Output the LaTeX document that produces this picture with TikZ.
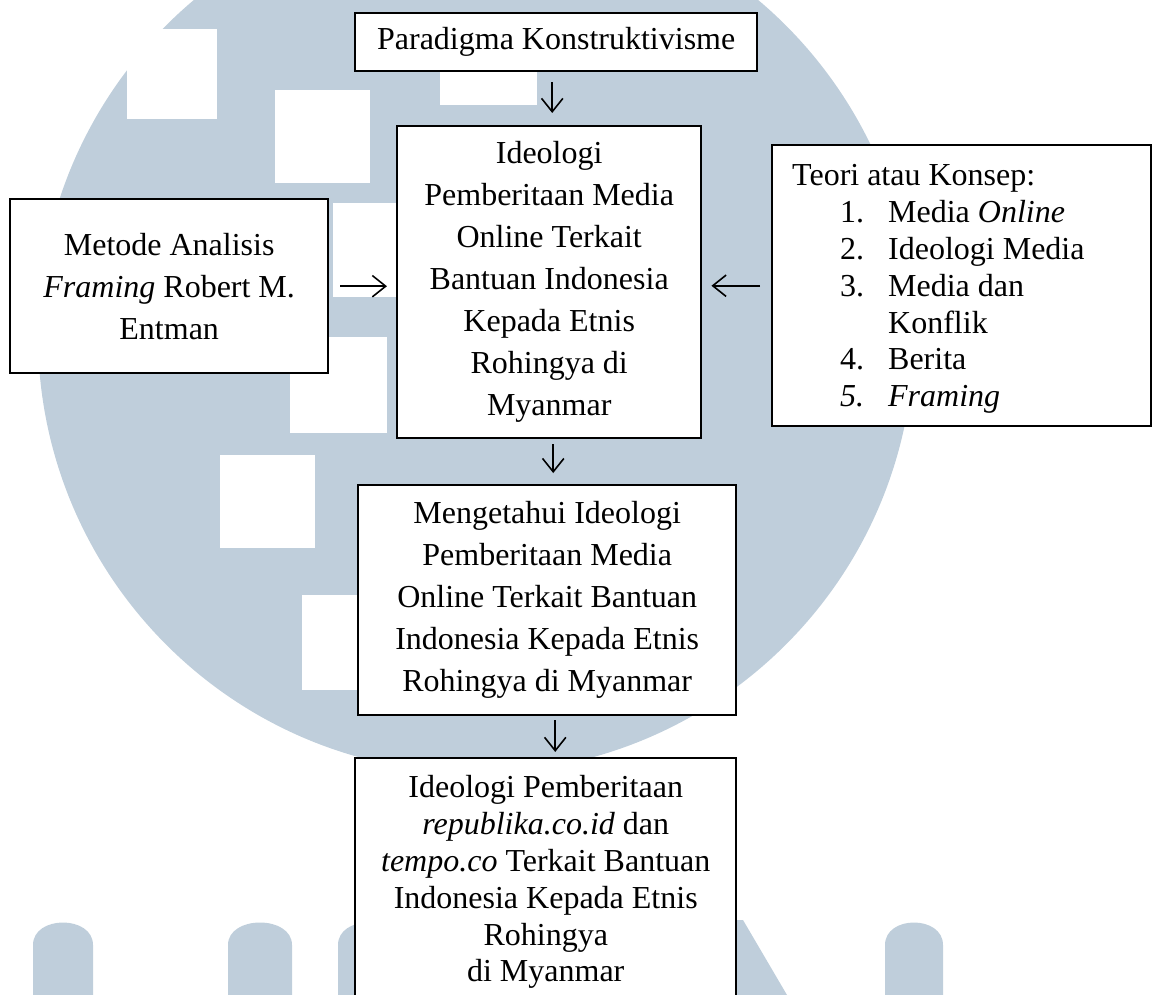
\documentclass[tikz,border=0pt]{standalone}
\usepackage{fontspec}
\setmainfont{Liberation Serif}
\usepackage{xcolor}
\usetikzlibrary{positioning,arrows.meta}
\definecolor{umnblue}{RGB}{191,206,219}
\tikzset{
  basic/.style  = {draw, line width=0.9pt, fill=white, inner sep=0pt, anchor=north west,
                   align=center, font=\fontsize{12}{15.75}\selectfont},
  tight/.style  = {basic, font=\fontsize{12}{13.8}\selectfont},
  listbox/.style = {tight, align=left, inner xsep=7.5pt, text width=127pt},
  arrow/.style  = {-{Straight Barb[length=5pt,width=8pt]}, line width=0.6pt},
  logo/.style   = {fill=umnblue}
}
\newcommand{\itemno}[1]{\hspace*{18pt}\makebox[18pt][l]{#1}}

\begin{document}
\begin{tikzpicture}[x=0.375pt, y=-0.375pt]
\useasboundingbox (0,0) rectangle (1153,995);
\clip (0,0) rectangle (1153,995);

% watermark in the background
\fill[logo] (476,335) circle [radius=438];
\fill[white] (127,29) rectangle (217,119);
\fill[white] (275,90) rectangle (370,183);
\fill[white] (440,72) rectangle (537,105);
\fill[white] (333,203) rectangle (400,297);
\fill[white] (290,337) rectangle (387,433);
\fill[white] (220,455) rectangle (315,548);
\fill[white] (302,595) rectangle (360,690);
\foreach \xa/\xb in {33/93, 228/292, 338/398, 885/943}
  \fill[logo] (\xa,1000) -- (\xa,945) .. controls (\xa,915) and (\xb,915) .. (\xb,945) -- (\xb,1000) -- cycle;
\fill[logo] (700,920) -- (743,920) -- (787,995) -- (700,995) -- cycle;

% boxes
\node[basic, minimum width=150.75pt, minimum height=21.75pt] (para) at (354,12)
  {Paradigma Konstruktivisme};
\node[basic, minimum width=114pt, minimum height=117pt] (ideo) at (396,125)
  {Ideologi\\ Pemberitaan Media\\ Online Terkait\\ Bantuan Indonesia\\ Kepada Etnis\\ Rohingya di\\ Myanmar};
\node[basic, minimum width=119.25pt, minimum height=65.25pt] (metode) at (9,198)
  {Metode Analisis\\ \textit{Framing} Robert M.\\ Entman};
\node[listbox, minimum width=142pt, minimum height=105.4pt] (teori) at (771,144)
  {\spaceskip=0pt \xspaceskip=0pt
   \begin{tabular}{@{}l@{}}
   \rule{0pt}{12pt}Teori atau Konsep:\\
   \itemno{1.}Media \textit{Online}\\
   \itemno{2.}Ideologi Media\\
   \itemno{3.}Media dan\\
   \hspace*{36pt}Konflik\\
   \itemno{4.}Berita\\
   \itemno{\textit{5.}}\textit{Framing}
   \end{tabular}};
\node[basic, minimum width=141.75pt, minimum height=86.25pt] (tahu) at (357,484)
  {Mengetahui Ideologi\\ Pemberitaan Media\\ Online Terkait Bantuan\\ Indonesia Kepada Etnis\\ Rohingya di Myanmar};
\node[tight, minimum width=142.9pt, minimum height=93pt] (hasil) at (354,757)
  {Ideologi Pemberitaan\\ \textit{republika.co.id} dan\\ \textit{tempo.co} Terkait Bantuan\\ Indonesia Kepada Etnis\\ Rohingya\\ di Myanmar};

% connectors
\draw[arrow, shorten <=3.75pt, shorten >=4.5pt] ([xshift=-1.5pt]para.south) -- ([xshift=-1.5pt]para.south |- ideo.north);
\draw[arrow, shorten <=4.1pt, shorten >=3.4pt] (metode.east) -- (metode.east -| ideo.west);
\draw[arrow, shorten <=4.1pt, shorten >=3.4pt] (teori.west) -- (teori.west -| ideo.east);
\draw[arrow, shorten <=1.9pt, shorten >=4.1pt] ([xshift=1.5pt]ideo.south) -- ([xshift=1.5pt]ideo.south |- tahu.north);
\draw[arrow, shorten <=1.5pt, shorten >=1.9pt] ([xshift=3pt]tahu.south) -- ([xshift=3pt]tahu.south |- hasil.north);

\end{tikzpicture}
\end{document}
